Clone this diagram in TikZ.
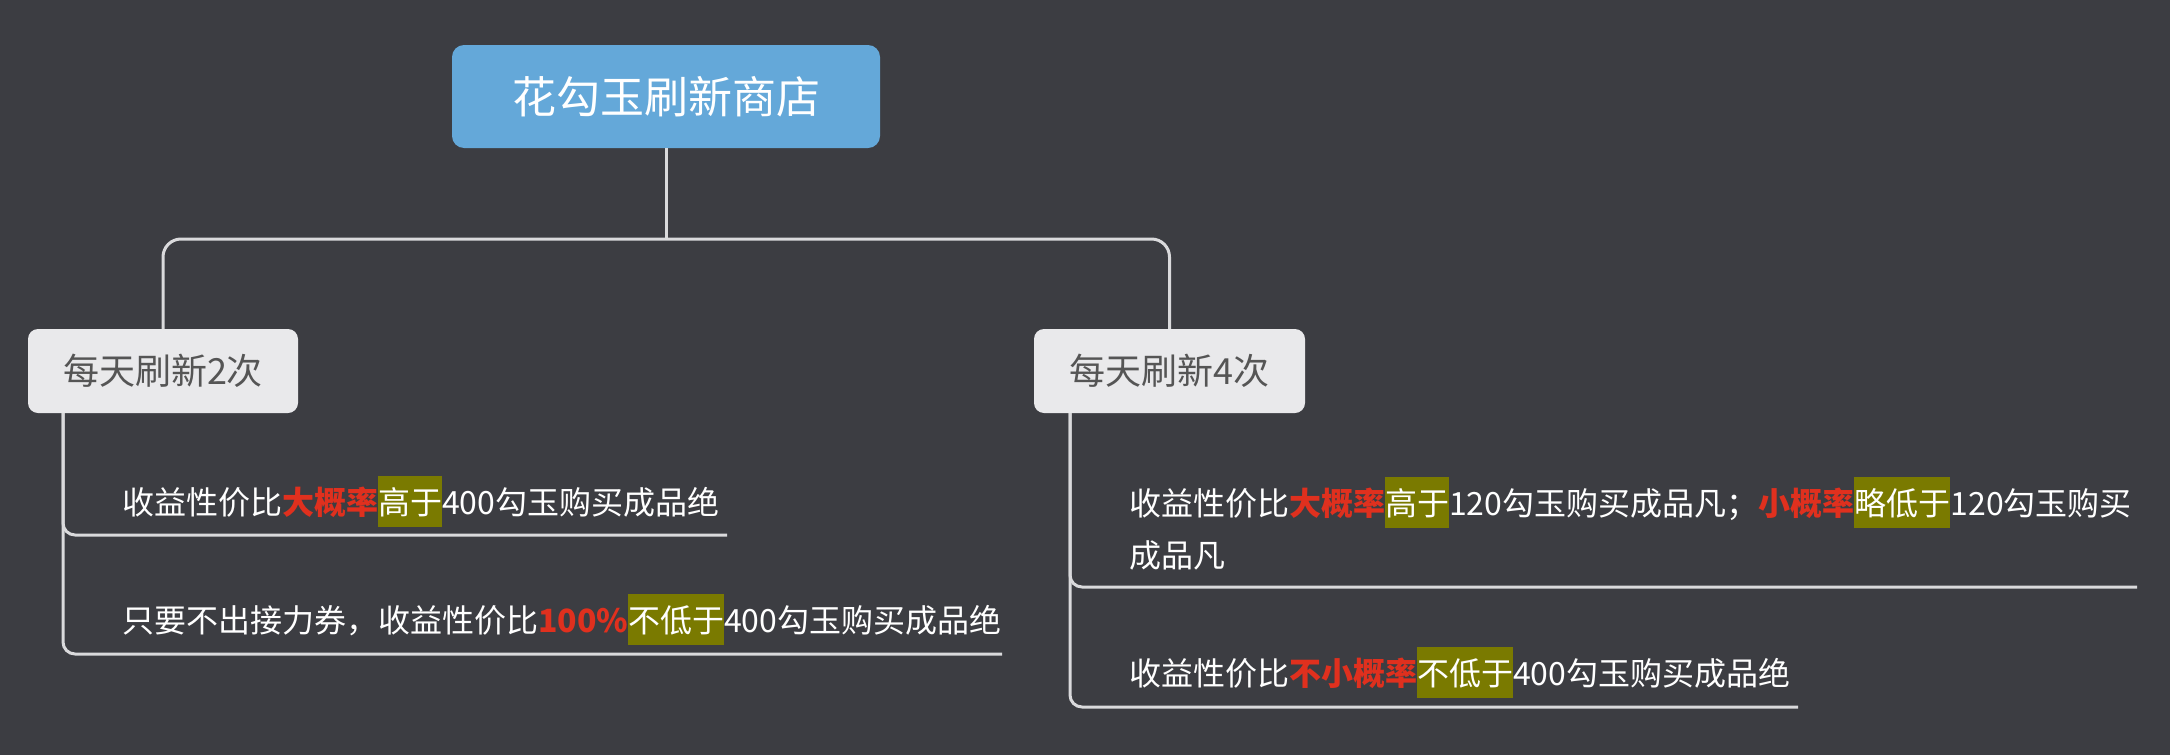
\documentclass[tikz,border=0pt]{standalone}
\usepackage{fontspec}
\setmainfont{Noto Sans CJK SC}
\usetikzlibrary{calc}
\definecolor{bgcol}{HTML}{3C3D42}
\definecolor{rootcol}{HTML}{64A8D9}
\definecolor{catcol}{HTML}{E9E9EB}
\definecolor{cattext}{HTML}{555555}
\definecolor{linecol}{HTML}{DADADC}
\definecolor{redcol}{HTML}{E0301E}
\definecolor{hlcol}{HTML}{7A7A00}
\newcommand{\hlx}[1]{{\setlength{\fboxsep}{0pt}\colorbox{hlcol}{\rule[-0.42em]{0pt}{1.6em}#1}}}
\newcommand{\redx}[1]{{\bfseries\color{redcol}#1}}
\begin{document}
\begin{tikzpicture}[x=1pt,y=-1pt,
  rootbox/.style={fill=rootcol, rounded corners=12pt, minimum width=428pt, minimum height=103pt, inner sep=0pt, text=white, font=\fontsize{44}{50}\selectfont},
  catbox/.style={fill=catcol, rounded corners=10pt, minimum width=270pt, minimum height=84pt, inner sep=0pt, text=cattext, font=\fontsize{36}{42}\selectfont},
  item/.style={anchor=base west, inner sep=0pt, text=white, font=\fontsize{32}{52}\selectfont},
  conn/.style={draw=linecol, line width=3pt}]
\fill[bgcol] (0,0) rectangle (2170,755);
\useasboundingbox (0,0) rectangle (2170,755);
\node[rootbox] (root) at (666,96.5) {花勾玉刷新商店};
\node[catbox] (L) at (163,371) {每天刷新2次};
\node[catbox, minimum width=271pt] (R) at (1169.5,371) {每天刷新4次};
\coordinate (bus) at (666,239);
\draw[conn] (root.south) -- (root.south |- bus);
\draw[conn, rounded corners=18pt] (L.north) -- (L.north |- bus) -- (R.north |- bus) -- (R.north);
\node[item] (l1) at (122,514) {收益性价比\redx{大概率}\hlx{高于}400勾玉购买成品绝};
\node[item] (l2) at (122,632) {只要不出接力券，收益性价比\redx{100\%}\hlx{不低于}400勾玉购买成品绝};
\node[item, text width=1100pt, align=left] (r1) at (1129,515) {收益性价比\redx{大概率}\hlx{高于}120勾玉购买成品凡；\redx{小概率}\hlx{略低于}120勾玉购买\\成品凡};
\node[item] (r2) at (1129,685) {收益性价比\redx{不小概率}\hlx{不低于}400勾玉购买成品绝};
\coordinate (u1) at (727,535);
\coordinate (u2) at (1002,654);
\coordinate (u3) at (2137,587);
\coordinate (u4) at (1798,707);
\draw[conn, rounded corners=12pt] ([xshift=-100pt]L.south) |- (u1);
\draw[conn, rounded corners=12pt] ([xshift=-100pt]L.south) |- (u2);
\draw[conn, rounded corners=12pt] ([xshift=-99.5pt]R.south) |- (u3);
\draw[conn, rounded corners=12pt] ([xshift=-99.5pt]R.south) |- (u4);
\end{tikzpicture}
\end{document}
